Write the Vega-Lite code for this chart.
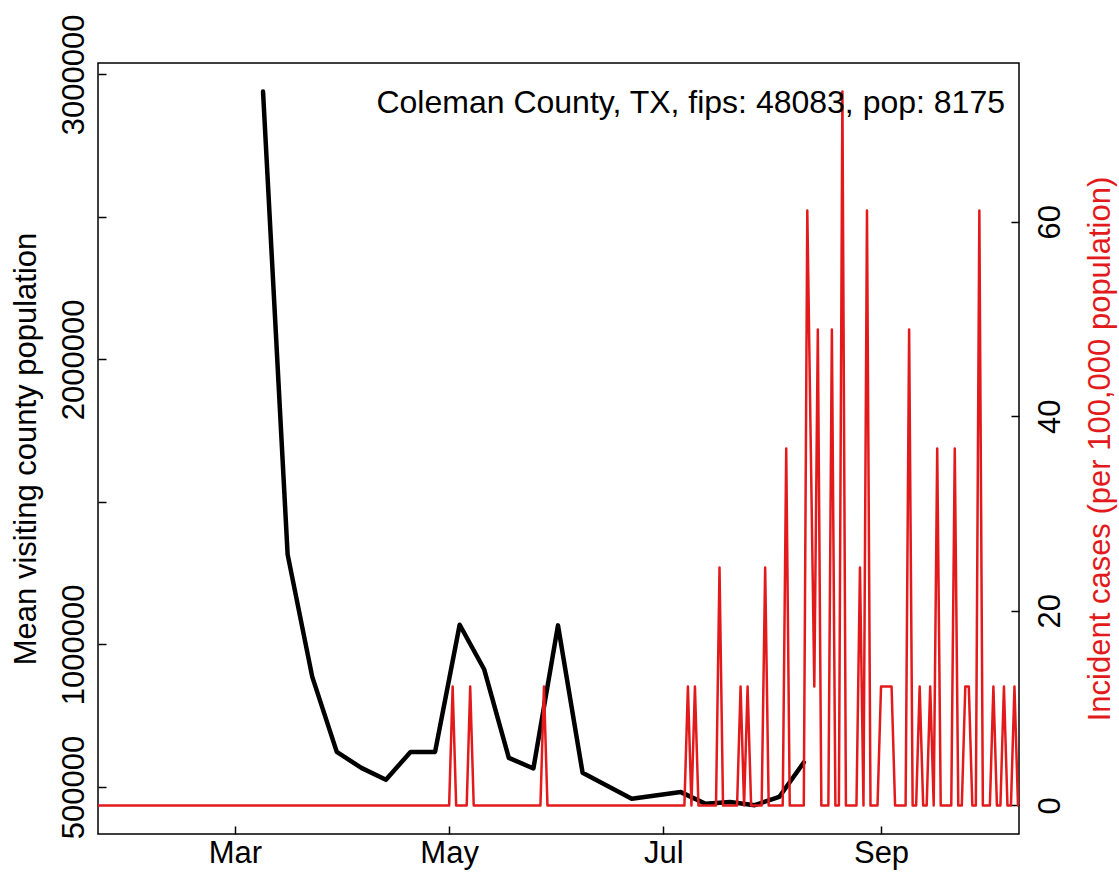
{
  "$schema": "https://vega.github.io/schema/vega-lite/v6.json",
  "autosize": {"type": "none"},
  "width": 921,
  "height": 771,
  "padding": {"left": 98, "top": 63, "right": 100, "bottom": 46},
  "background": "white",
  "title": {
    "text": "Coleman County, TX, fips: 48083, pop: 8175",
    "anchor": "end",
    "frame": "group",
    "orient": "top",
    "baseline": "alphabetic",
    "offset": -131,
    "dx": -14,
    "font": "Liberation Sans",
    "fontSize": 32,
    "fontWeight": "normal",
    "color": "black"
  },
  "datasets": {
    "visits": [
      {"date": "2020-03-09", "pop": 2940000},
      {"date": "2020-03-16", "pop": 1316000},
      {"date": "2020-03-23", "pop": 887000},
      {"date": "2020-03-30", "pop": 623000},
      {"date": "2020-04-06", "pop": 567000},
      {"date": "2020-04-13", "pop": 525000},
      {"date": "2020-04-20", "pop": 623000},
      {"date": "2020-04-27", "pop": 623000},
      {"date": "2020-05-04", "pop": 1069000},
      {"date": "2020-05-11", "pop": 912000},
      {"date": "2020-05-18", "pop": 602000},
      {"date": "2020-05-25", "pop": 565000},
      {"date": "2020-06-01", "pop": 1067000},
      {"date": "2020-06-08", "pop": 550000},
      {"date": "2020-06-22", "pop": 459000},
      {"date": "2020-07-06", "pop": 482000},
      {"date": "2020-07-13", "pop": 441000},
      {"date": "2020-07-20", "pop": 447000},
      {"date": "2020-07-27", "pop": 436000},
      {"date": "2020-08-03", "pop": 465000},
      {"date": "2020-08-10", "pop": 586000}
    ],
    "cases": [
      {"date": "2020-01-22", "inc": 0}, {"date": "2020-01-23", "inc": 0}, {"date": "2020-01-24", "inc": 0}, {"date": "2020-01-25", "inc": 0}, {"date": "2020-01-26", "inc": 0},
      {"date": "2020-01-27", "inc": 0}, {"date": "2020-01-28", "inc": 0}, {"date": "2020-01-29", "inc": 0}, {"date": "2020-01-30", "inc": 0}, {"date": "2020-01-31", "inc": 0},
      {"date": "2020-02-01", "inc": 0}, {"date": "2020-02-02", "inc": 0}, {"date": "2020-02-03", "inc": 0}, {"date": "2020-02-04", "inc": 0}, {"date": "2020-02-05", "inc": 0},
      {"date": "2020-02-06", "inc": 0}, {"date": "2020-02-07", "inc": 0}, {"date": "2020-02-08", "inc": 0}, {"date": "2020-02-09", "inc": 0}, {"date": "2020-02-10", "inc": 0},
      {"date": "2020-02-11", "inc": 0}, {"date": "2020-02-12", "inc": 0}, {"date": "2020-02-13", "inc": 0}, {"date": "2020-02-14", "inc": 0}, {"date": "2020-02-15", "inc": 0},
      {"date": "2020-02-16", "inc": 0}, {"date": "2020-02-17", "inc": 0}, {"date": "2020-02-18", "inc": 0}, {"date": "2020-02-19", "inc": 0}, {"date": "2020-02-20", "inc": 0},
      {"date": "2020-02-21", "inc": 0}, {"date": "2020-02-22", "inc": 0}, {"date": "2020-02-23", "inc": 0}, {"date": "2020-02-24", "inc": 0}, {"date": "2020-02-25", "inc": 0},
      {"date": "2020-02-26", "inc": 0}, {"date": "2020-02-27", "inc": 0}, {"date": "2020-02-28", "inc": 0}, {"date": "2020-02-29", "inc": 0},
      {"date": "2020-03-01", "inc": 0}, {"date": "2020-03-02", "inc": 0}, {"date": "2020-03-03", "inc": 0}, {"date": "2020-03-04", "inc": 0}, {"date": "2020-03-05", "inc": 0},
      {"date": "2020-03-06", "inc": 0}, {"date": "2020-03-07", "inc": 0}, {"date": "2020-03-08", "inc": 0}, {"date": "2020-03-09", "inc": 0}, {"date": "2020-03-10", "inc": 0},
      {"date": "2020-03-11", "inc": 0}, {"date": "2020-03-12", "inc": 0}, {"date": "2020-03-13", "inc": 0}, {"date": "2020-03-14", "inc": 0}, {"date": "2020-03-15", "inc": 0},
      {"date": "2020-03-16", "inc": 0}, {"date": "2020-03-17", "inc": 0}, {"date": "2020-03-18", "inc": 0}, {"date": "2020-03-19", "inc": 0}, {"date": "2020-03-20", "inc": 0},
      {"date": "2020-03-21", "inc": 0}, {"date": "2020-03-22", "inc": 0}, {"date": "2020-03-23", "inc": 0}, {"date": "2020-03-24", "inc": 0}, {"date": "2020-03-25", "inc": 0},
      {"date": "2020-03-26", "inc": 0}, {"date": "2020-03-27", "inc": 0}, {"date": "2020-03-28", "inc": 0}, {"date": "2020-03-29", "inc": 0}, {"date": "2020-03-30", "inc": 0},
      {"date": "2020-03-31", "inc": 0},
      {"date": "2020-04-01", "inc": 0}, {"date": "2020-04-02", "inc": 0}, {"date": "2020-04-03", "inc": 0}, {"date": "2020-04-04", "inc": 0}, {"date": "2020-04-05", "inc": 0},
      {"date": "2020-04-06", "inc": 0}, {"date": "2020-04-07", "inc": 0}, {"date": "2020-04-08", "inc": 0}, {"date": "2020-04-09", "inc": 0}, {"date": "2020-04-10", "inc": 0},
      {"date": "2020-04-11", "inc": 0}, {"date": "2020-04-12", "inc": 0}, {"date": "2020-04-13", "inc": 0}, {"date": "2020-04-14", "inc": 0}, {"date": "2020-04-15", "inc": 0},
      {"date": "2020-04-16", "inc": 0}, {"date": "2020-04-17", "inc": 0}, {"date": "2020-04-18", "inc": 0}, {"date": "2020-04-19", "inc": 0}, {"date": "2020-04-20", "inc": 0},
      {"date": "2020-04-21", "inc": 0}, {"date": "2020-04-22", "inc": 0}, {"date": "2020-04-23", "inc": 0}, {"date": "2020-04-24", "inc": 0}, {"date": "2020-04-25", "inc": 0},
      {"date": "2020-04-26", "inc": 0}, {"date": "2020-04-27", "inc": 0}, {"date": "2020-04-28", "inc": 0}, {"date": "2020-04-29", "inc": 0}, {"date": "2020-04-30", "inc": 0},
      {"date": "2020-05-01", "inc": 0}, {"date": "2020-05-02", "inc": 12.23}, {"date": "2020-05-03", "inc": 0}, {"date": "2020-05-04", "inc": 0}, {"date": "2020-05-05", "inc": 0},
      {"date": "2020-05-06", "inc": 0}, {"date": "2020-05-07", "inc": 12.23}, {"date": "2020-05-08", "inc": 0}, {"date": "2020-05-09", "inc": 0}, {"date": "2020-05-10", "inc": 0},
      {"date": "2020-05-11", "inc": 0}, {"date": "2020-05-12", "inc": 0}, {"date": "2020-05-13", "inc": 0}, {"date": "2020-05-14", "inc": 0}, {"date": "2020-05-15", "inc": 0},
      {"date": "2020-05-16", "inc": 0}, {"date": "2020-05-17", "inc": 0}, {"date": "2020-05-18", "inc": 0}, {"date": "2020-05-19", "inc": 0}, {"date": "2020-05-20", "inc": 0},
      {"date": "2020-05-21", "inc": 0}, {"date": "2020-05-22", "inc": 0}, {"date": "2020-05-23", "inc": 0}, {"date": "2020-05-24", "inc": 0}, {"date": "2020-05-25", "inc": 0},
      {"date": "2020-05-26", "inc": 0}, {"date": "2020-05-27", "inc": 0}, {"date": "2020-05-28", "inc": 12.23}, {"date": "2020-05-29", "inc": 0}, {"date": "2020-05-30", "inc": 0},
      {"date": "2020-05-31", "inc": 0},
      {"date": "2020-06-01", "inc": 0}, {"date": "2020-06-02", "inc": 0}, {"date": "2020-06-03", "inc": 0}, {"date": "2020-06-04", "inc": 0}, {"date": "2020-06-05", "inc": 0},
      {"date": "2020-06-06", "inc": 0}, {"date": "2020-06-07", "inc": 0}, {"date": "2020-06-08", "inc": 0}, {"date": "2020-06-09", "inc": 0}, {"date": "2020-06-10", "inc": 0},
      {"date": "2020-06-11", "inc": 0}, {"date": "2020-06-12", "inc": 0}, {"date": "2020-06-13", "inc": 0}, {"date": "2020-06-14", "inc": 0}, {"date": "2020-06-15", "inc": 0},
      {"date": "2020-06-16", "inc": 0}, {"date": "2020-06-17", "inc": 0}, {"date": "2020-06-18", "inc": 0}, {"date": "2020-06-19", "inc": 0}, {"date": "2020-06-20", "inc": 0},
      {"date": "2020-06-21", "inc": 0}, {"date": "2020-06-22", "inc": 0}, {"date": "2020-06-23", "inc": 0}, {"date": "2020-06-24", "inc": 0}, {"date": "2020-06-25", "inc": 0},
      {"date": "2020-06-26", "inc": 0}, {"date": "2020-06-27", "inc": 0}, {"date": "2020-06-28", "inc": 0}, {"date": "2020-06-29", "inc": 0}, {"date": "2020-06-30", "inc": 0},
      {"date": "2020-07-01", "inc": 0}, {"date": "2020-07-02", "inc": 0}, {"date": "2020-07-03", "inc": 0}, {"date": "2020-07-04", "inc": 0}, {"date": "2020-07-05", "inc": 0},
      {"date": "2020-07-06", "inc": 0}, {"date": "2020-07-07", "inc": 0}, {"date": "2020-07-08", "inc": 12.23}, {"date": "2020-07-09", "inc": 0}, {"date": "2020-07-10", "inc": 12.23},
      {"date": "2020-07-11", "inc": 0}, {"date": "2020-07-12", "inc": 0}, {"date": "2020-07-13", "inc": 0}, {"date": "2020-07-14", "inc": 0}, {"date": "2020-07-15", "inc": 0},
      {"date": "2020-07-16", "inc": 0}, {"date": "2020-07-17", "inc": 24.46}, {"date": "2020-07-18", "inc": 0}, {"date": "2020-07-19", "inc": 0}, {"date": "2020-07-20", "inc": 0},
      {"date": "2020-07-21", "inc": 0}, {"date": "2020-07-22", "inc": 0}, {"date": "2020-07-23", "inc": 12.23}, {"date": "2020-07-24", "inc": 0}, {"date": "2020-07-25", "inc": 12.23},
      {"date": "2020-07-26", "inc": 0}, {"date": "2020-07-27", "inc": 0}, {"date": "2020-07-28", "inc": 0}, {"date": "2020-07-29", "inc": 0}, {"date": "2020-07-30", "inc": 24.46},
      {"date": "2020-07-31", "inc": 0},
      {"date": "2020-08-01", "inc": 0}, {"date": "2020-08-02", "inc": 0}, {"date": "2020-08-03", "inc": 0}, {"date": "2020-08-04", "inc": 0}, {"date": "2020-08-05", "inc": 36.70},
      {"date": "2020-08-06", "inc": 0}, {"date": "2020-08-07", "inc": 0}, {"date": "2020-08-08", "inc": 0}, {"date": "2020-08-09", "inc": 0}, {"date": "2020-08-10", "inc": 0},
      {"date": "2020-08-11", "inc": 61.16}, {"date": "2020-08-12", "inc": 36.70}, {"date": "2020-08-13", "inc": 12.23}, {"date": "2020-08-14", "inc": 48.93}, {"date": "2020-08-15", "inc": 0},
      {"date": "2020-08-16", "inc": 0}, {"date": "2020-08-17", "inc": 0}, {"date": "2020-08-18", "inc": 48.93}, {"date": "2020-08-19", "inc": 0}, {"date": "2020-08-20", "inc": 0},
      {"date": "2020-08-21", "inc": 73.39}, {"date": "2020-08-22", "inc": 0}, {"date": "2020-08-23", "inc": 0}, {"date": "2020-08-24", "inc": 0}, {"date": "2020-08-25", "inc": 0},
      {"date": "2020-08-26", "inc": 24.46}, {"date": "2020-08-27", "inc": 0}, {"date": "2020-08-28", "inc": 61.16}, {"date": "2020-08-29", "inc": 0}, {"date": "2020-08-30", "inc": 0},
      {"date": "2020-08-31", "inc": 0},
      {"date": "2020-09-01", "inc": 12.23}, {"date": "2020-09-02", "inc": 12.23}, {"date": "2020-09-03", "inc": 12.23}, {"date": "2020-09-04", "inc": 12.23}, {"date": "2020-09-05", "inc": 0},
      {"date": "2020-09-06", "inc": 0}, {"date": "2020-09-07", "inc": 0}, {"date": "2020-09-08", "inc": 0}, {"date": "2020-09-09", "inc": 48.93}, {"date": "2020-09-10", "inc": 0},
      {"date": "2020-09-11", "inc": 0}, {"date": "2020-09-12", "inc": 12.23}, {"date": "2020-09-13", "inc": 0}, {"date": "2020-09-14", "inc": 0}, {"date": "2020-09-15", "inc": 12.23},
      {"date": "2020-09-16", "inc": 0}, {"date": "2020-09-17", "inc": 36.70}, {"date": "2020-09-18", "inc": 0}, {"date": "2020-09-19", "inc": 0}, {"date": "2020-09-20", "inc": 0},
      {"date": "2020-09-21", "inc": 0}, {"date": "2020-09-22", "inc": 36.70}, {"date": "2020-09-23", "inc": 0}, {"date": "2020-09-24", "inc": 0}, {"date": "2020-09-25", "inc": 12.23},
      {"date": "2020-09-26", "inc": 12.23}, {"date": "2020-09-27", "inc": 0}, {"date": "2020-09-28", "inc": 0}, {"date": "2020-09-29", "inc": 61.16}, {"date": "2020-09-30", "inc": 0},
      {"date": "2020-10-01", "inc": 0}, {"date": "2020-10-02", "inc": 0}, {"date": "2020-10-03", "inc": 12.23}, {"date": "2020-10-04", "inc": 0}, {"date": "2020-10-05", "inc": 0},
      {"date": "2020-10-06", "inc": 12.23}, {"date": "2020-10-07", "inc": 0}, {"date": "2020-10-08", "inc": 0}, {"date": "2020-10-09", "inc": 12.23}, {"date": "2020-10-10", "inc": 0}
    ]
  },
  "layer": [
    {
      "data": {"name": "visits"},
      "mark": {"type": "line", "color": "black", "strokeWidth": 4.5, "strokeJoin": "round", "strokeCap": "round", "clip": true},
      "encoding": {
        "x": {
          "field": "date", "type": "temporal",
          "scale": {"type": "utc", "domain": [{"year": 2020, "month": 1, "date": 22, "utc": true}, {"year": 2020, "month": 10, "date": 10, "hours": 7, "utc": true}]},
          "axis": {
            "title": null,
            "values": [{"year": 2020, "month": 3, "date": 1, "utc": true}, {"year": 2020, "month": 5, "date": 1, "utc": true}, {"year": 2020, "month": 7, "date": 1, "utc": true}, {"year": 2020, "month": 9, "date": 1, "utc": true}],
            "format": "%b",
            "labelPadding": 12
          }
        },
        "y": {
          "field": "pop", "type": "quantitative",
          "scale": {"domain": [335000, 3040000], "nice": false, "zero": false},
          "axis": {
            "title": "Mean visiting county population",
            "values": [500000, 1000000, 1500000, 2000000, 2500000, 3000000],
            "labelExpr": "datum.value == 1500000 || datum.value == 2500000 ? '' : format(datum.value, 'd')",
            "labelAngle": -90,
            "labelAlign": "center",
            "labelBaseline": "bottom",
            "labelPadding": 16,
            "titlePadding": 16
          }
        }
      }
    },
    {
      "data": {"name": "cases"},
      "mark": {"type": "line", "color": "#E31A1C", "strokeWidth": 2.5, "strokeJoin": "round", "strokeCap": "round", "clip": true},
      "encoding": {
        "x": {"field": "date", "type": "temporal"},
        "y": {
          "field": "inc", "type": "quantitative",
          "scale": {"domain": [-2.94, 76.33], "nice": false, "zero": false},
          "axis": {
            "orient": "right",
            "title": "Incident cases (per 100,000 population)",
            "titleColor": "#E31A1C",
            "titleAngle": -90,
            "titleBaseline": "top",
            "titlePadding": 20,
            "values": [0, 20, 40, 60],
            "format": "d",
            "labelAngle": -90,
            "labelAlign": "center",
            "labelBaseline": "top",
            "labelPadding": 24
          }
        }
      }
    }
  ],
  "resolve": {"scale": {"y": "independent"}},
  "config": {
    "font": "Liberation Sans",
    "view": {"stroke": "black", "strokeWidth": 1.5},
    "axis": {
      "domain": false,
      "grid": false,
      "ticks": true,
      "tickSize": -8,
      "tickColor": "black",
      "tickWidth": 1.5,
      "labelFont": "Liberation Sans",
      "labelFontSize": 31,
      "labelColor": "black",
      "labelOverlap": false,
      "labelFlush": false,
      "titleFont": "Liberation Sans",
      "titleFontSize": 31,
      "titleFontWeight": "normal",
      "titleColor": "black"
    }
  }
}
